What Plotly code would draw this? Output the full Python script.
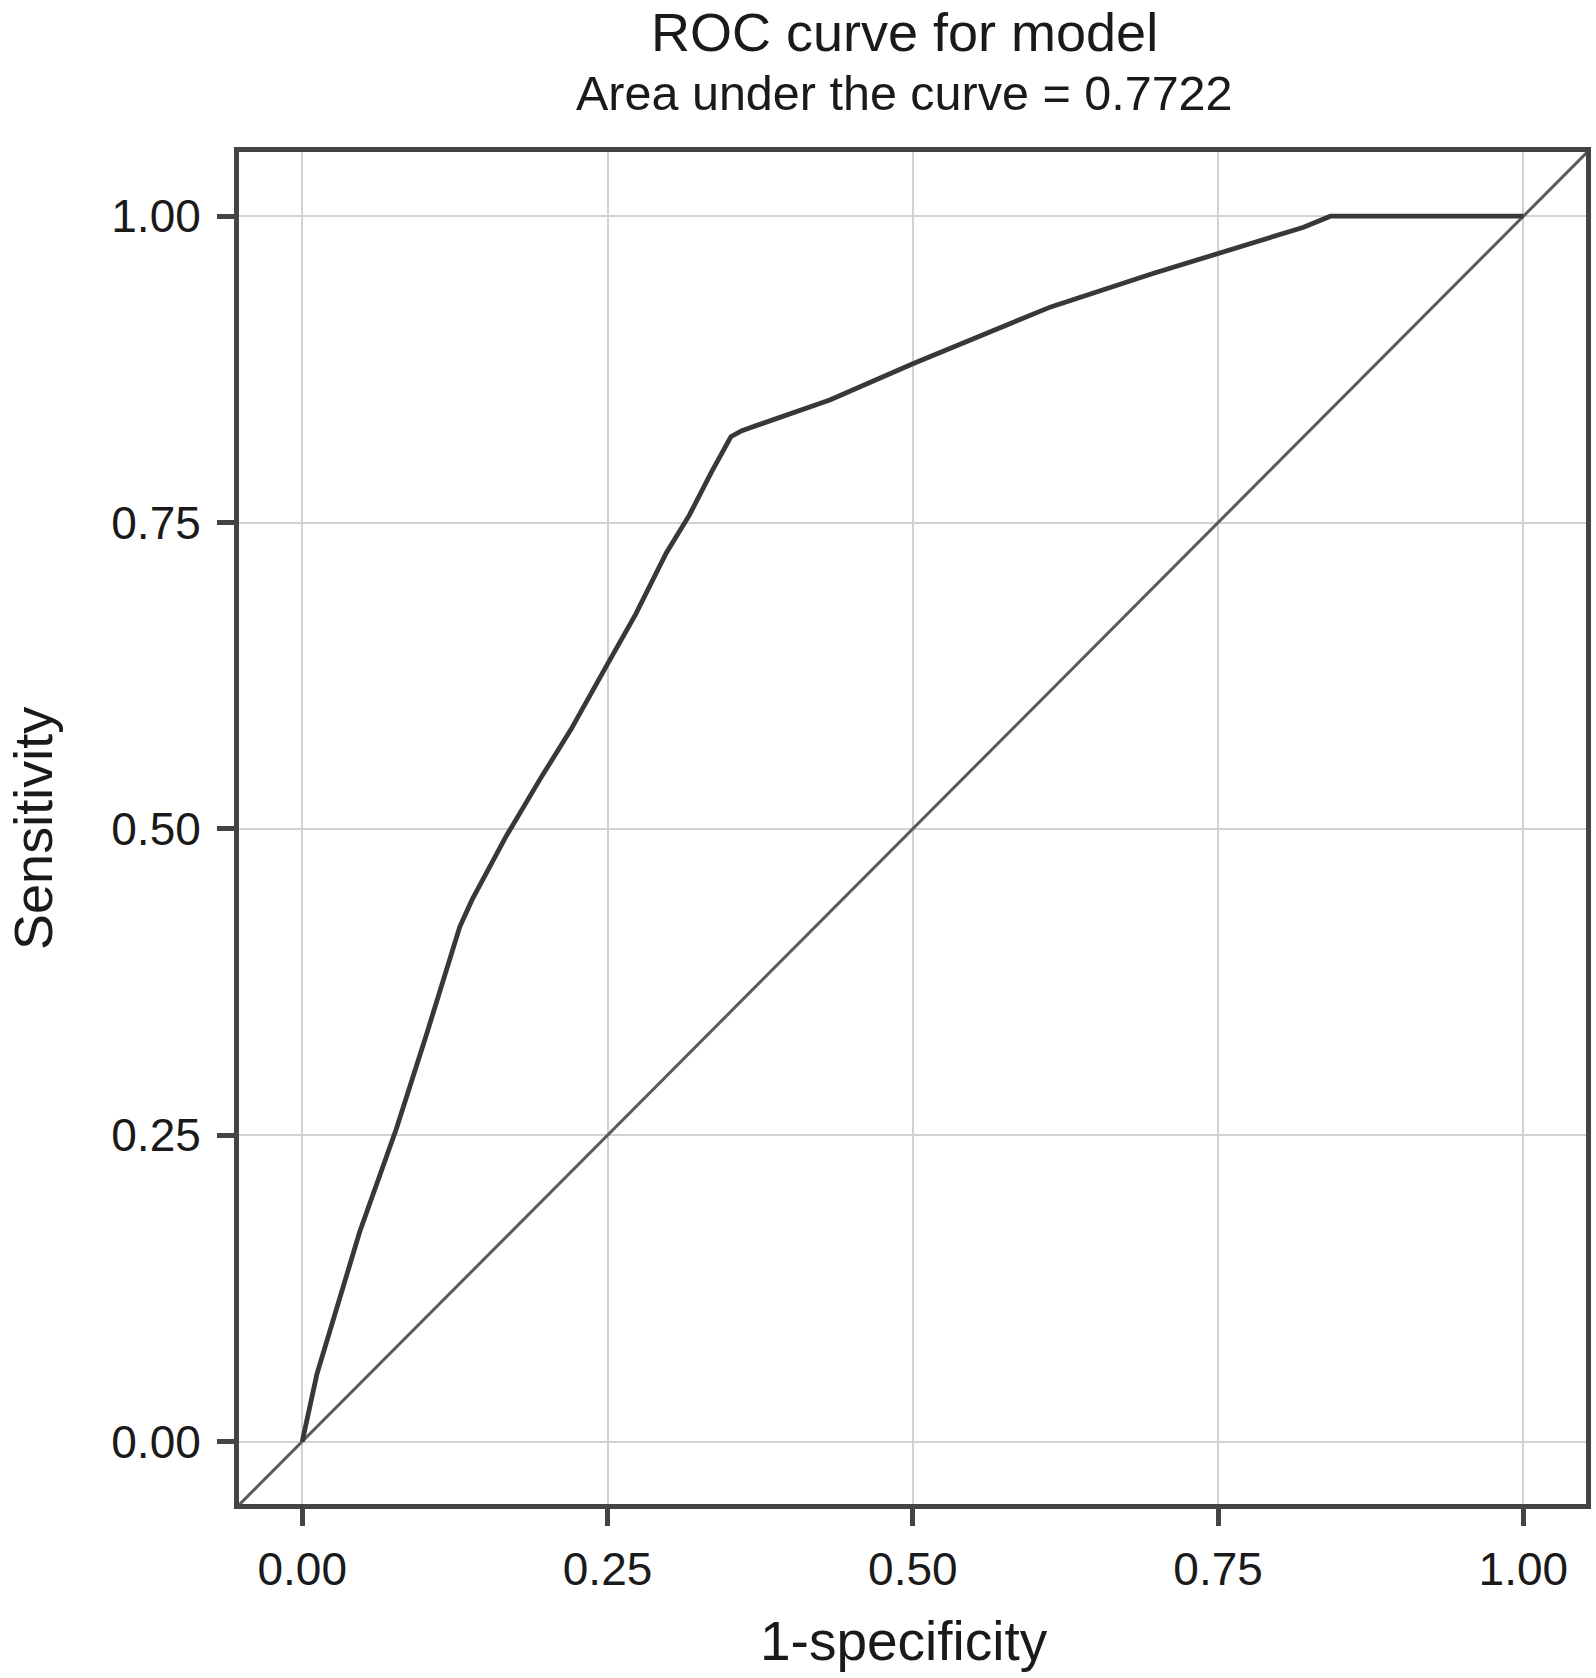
import plotly.graph_objects as go

# ROC points (1-specificity, sensitivity)
fpr = [0.0, 0.012, 0.047, 0.077, 0.102, 0.121, 0.129, 0.139, 0.167, 0.195, 0.220,
       0.248, 0.273, 0.298, 0.317, 0.335, 0.351, 0.360, 0.395, 0.432, 0.501,
       0.613, 0.696, 0.751, 0.820, 0.842, 1.0]
tpr = [0.0, 0.055, 0.171, 0.255, 0.333, 0.395, 0.420, 0.442, 0.494, 0.541, 0.581,
       0.631, 0.675, 0.725, 0.756, 0.791, 0.820, 0.825, 0.837, 0.850, 0.880,
       0.926, 0.953, 0.970, 0.991, 1.0, 1.0]

tick_vals = [0.0, 0.25, 0.50, 0.75, 1.0]
x_range = [-0.0518, 1.0513]
y_range = [-0.0510, 1.0524]
auc = 0.7722

title_text = "ROC curve for model"
subtitle_text = "Area under the curve = %.4f" % auc
x_title = "1-specificity"
y_title = "Sensitivity"

FONT = "Liberation Sans, Arial, Helvetica, sans-serif"
AXIS_COL = "#444444"

fig = go.Figure()

# reference diagonal (abline across the whole panel)
diag = [-0.1, 1.1]
fig.add_trace(go.Scatter(x=diag, y=diag, mode="lines",
                         line=dict(color="#5a5a5a", width=3),
                         hoverinfo="skip", showlegend=False))

fig.add_trace(go.Scatter(x=fpr, y=tpr, mode="lines",
                         line=dict(color="#383838", width=4.8),
                         showlegend=False))

axis_common = dict(
    tickvals=tick_vals,
    tickformat=".2f",
    showgrid=True,
    gridcolor="#d2d2d2",
    gridwidth=2,
    zeroline=False,
    showline=True,
    mirror=True,
    linecolor=AXIS_COL,
    linewidth=5,
    ticks="outside",
    ticklen=17,
    tickwidth=4.5,
    tickcolor=AXIS_COL,
    tickfont=dict(family=FONT, size=46, color="#1a1a1a"),
)

fig.update_xaxes(range=x_range, ticklabelstandoff=4, **axis_common)
fig.update_yaxes(range=y_range, ticklabelstandoff=7, **axis_common)

# plot area: 239..1591 across, 152..1504 down (1352 px square)
ann_font = dict(family=FONT, color="#1a1a1a")
fig.add_annotation(text=title_text, x=0.4937, y=1.1118, xref="paper", yref="paper",
                   xanchor="center", yanchor="top", showarrow=False, borderpad=0,
                   font=dict(size=54, **ann_font))
fig.add_annotation(text=subtitle_text, x=0.4937, y=1.0434, xref="paper", yref="paper",
                   xanchor="center", yanchor="middle", showarrow=False,
                   font=dict(size=48.5, **ann_font))
fig.add_annotation(text=x_title, x=0.4937, y=-0.1011, xref="paper", yref="paper",
                   xanchor="center", yanchor="middle", showarrow=False,
                   font=dict(size=55, **ann_font))
fig.add_annotation(text=y_title, x=-0.1760, y=0.5, xref="paper", yref="paper",
                   xanchor="left", yanchor="middle", showarrow=False, textangle=-90,
                   borderpad=0, font=dict(size=54, **ann_font))

fig.update_layout(
    width=1596,
    height=1678,
    margin=dict(l=239, r=5, t=152, b=174),
    plot_bgcolor="white",
    paper_bgcolor="white",
    showlegend=False,
)

# drop the browser's default 8px body margin so the figure fills the window
fig.write_html("out.html", config={"displayModeBar": False},
               post_script="document.body.style.margin = '0';")
